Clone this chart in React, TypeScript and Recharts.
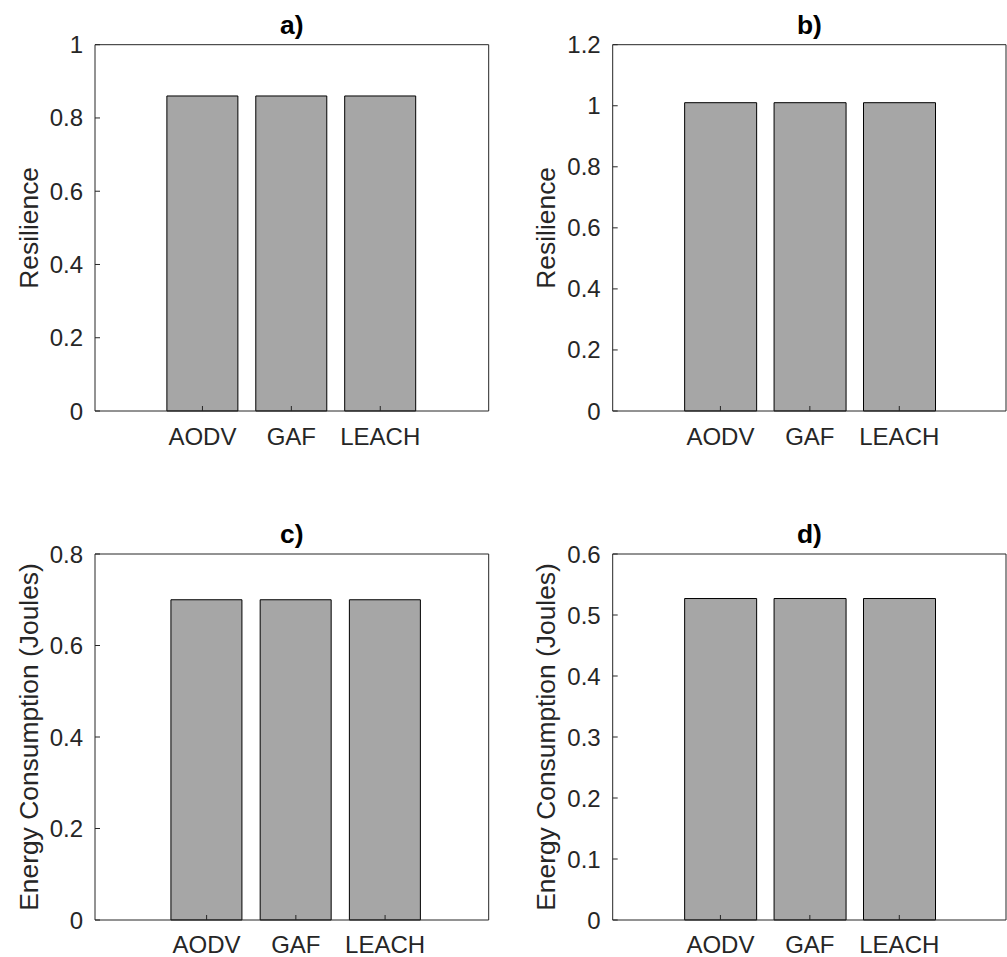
import React from 'react';
import { BarChart, Bar, XAxis, YAxis, Label } from 'recharts';

const categories = ['AODV', 'GAF', 'LEACH'];
const resilienceA = [0.86, 0.86, 0.86];
const resilienceB = [1.01, 1.01, 1.01];
const energyC = [0.7, 0.7, 0.7];
const energyD = [0.527, 0.527, 0.527];

const ticksA = [0, 0.2, 0.4, 0.6, 0.8, 1];
const ticksB = [0, 0.2, 0.4, 0.6, 0.8, 1, 1.2];
const ticksC = [0, 0.2, 0.4, 0.6, 0.8];
const ticksD = [0, 0.1, 0.2, 0.3, 0.4, 0.5, 0.6];

const FONT = '"Liberation Sans", Arial, Helvetica, sans-serif';
const AXIS = '#262626';
const TICK_LEN = 5;
const YAXIS_W = 60;
const XAXIS_H = 30;

type PanelProps = {
  title: string;
  yLabel: string;
  values: number[];
  ticks: number[];
  left: number;
  top: number;
  width: number;
  height: number;
  plot: { x0: number; x1: number; y0: number; y1: number };
  pad: { left: number; right: number };
  xTickMargin: number;
};

function Panel({ title, yLabel, values, ticks, left, top, width, height, plot, pad, xTickMargin }: PanelProps) {
  const data = categories.map((name, i) => ({ name, value: values[i] }));
  // the top and right axes take 1px each, recharts skips axes with zero size
  const margin = {
    top: plot.y0 - 1,
    left: plot.x0 - YAXIS_W,
    right: width - plot.x1 - 1,
    bottom: height - plot.y1 - XAXIS_H,
  };
  const domain = [ticks[0], ticks[ticks.length - 1]];
  const tickStyle = { fontSize: 24, fill: AXIS, fontFamily: FONT };

  return (
    <div style={{ position: 'absolute', left, top, width, height }}>
      <BarChart width={width} height={height} data={data} margin={margin} barCategoryGap="10%">
        <XAxis
          dataKey="name"
          interval={0}
          height={XAXIS_H}
          padding={pad}
          stroke={AXIS}
          tickSize={-TICK_LEN}
          tickMargin={xTickMargin}
          tick={tickStyle}
        />
        <XAxis
          xAxisId="top"
          orientation="top"
          dataKey="name"
          height={1}
          padding={pad}
          stroke={AXIS}
          tickSize={-TICK_LEN}
          tick={false}
        >
          <Label
            content={({ viewBox }: any) => (
              <text
                x={viewBox.x + viewBox.width / 2}
                y={plot.y0 - 11}
                textAnchor="middle"
                fontSize={26.4}
                fontWeight="bold"
                fontFamily={FONT}
                fill="#000"
              >
                {title}
              </text>
            )}
          />
        </XAxis>
        <YAxis
          type="number"
          domain={domain}
          ticks={ticks}
          width={YAXIS_W}
          stroke={AXIS}
          tickSize={-TICK_LEN}
          tickMargin={17}
          tick={tickStyle}
          interval={0}
        >
          <Label
            content={({ viewBox }: any) => {
              const cx = plot.x0 - 57.3;
              const cy = viewBox.y + viewBox.height / 2;
              return (
                <text
                  x={cx}
                  y={cy}
                  transform={`rotate(-90, ${cx}, ${cy})`}
                  textAnchor="middle"
                  fontSize={26.4}
                  fontFamily={FONT}
                  fill={AXIS}
                >
                  {yLabel}
                </text>
              );
            }}
          />
        </YAxis>
        <YAxis
          yAxisId="right"
          orientation="right"
          type="number"
          domain={domain}
          ticks={ticks}
          width={1}
          stroke={AXIS}
          tickSize={-TICK_LEN}
          tick={false}
          interval={0}
        />
        <Bar dataKey="value" fill="#a6a6a6" stroke="#000" strokeWidth={1} isAnimationActive={false} />
      </BarChart>
    </div>
  );
}

export default function App() {
  return (
    <div style={{ position: 'absolute', left: 0, top: 0, width: 1007, height: 957, background: '#fff' }}>
      <Panel
        title="a)"
        yLabel="Resilience"
        values={resilienceA}
        ticks={ticksA}
        left={0}
        top={0}
        width={500}
        height={478}
        plot={{ x0: 95, x1: 488.7, y0: 44.7, y1: 411 }}
        pad={{ left: 63, right: 64 }}
        xTickMargin={22}
      />
      <Panel
        title="b)"
        yLabel="Resilience"
        values={resilienceB}
        ticks={ticksB}
        left={500}
        top={0}
        width={507}
        height={478}
        plot={{ x0: 112.7, x1: 506, y0: 44.7, y1: 411 }}
        pad={{ left: 63, right: 62 }}
        xTickMargin={22}
      />
      <Panel
        title="c)"
        yLabel="Energy Consumption (Joules)"
        values={energyC}
        ticks={ticksC}
        left={0}
        top={478}
        width={500}
        height={479}
        plot={{ x0: 95, x1: 488.7, y0: 76, y1: 442 }}
        pad={{ left: 67, right: 59 }}
        xTickMargin={21}
      />
      <Panel
        title="d)"
        yLabel="Energy Consumption (Joules)"
        values={energyD}
        ticks={ticksD}
        left={500}
        top={478}
        width={507}
        height={479}
        plot={{ x0: 112.7, x1: 506, y0: 76, y1: 442 }}
        pad={{ left: 63, right: 62 }}
        xTickMargin={21}
      />
    </div>
  );
}
